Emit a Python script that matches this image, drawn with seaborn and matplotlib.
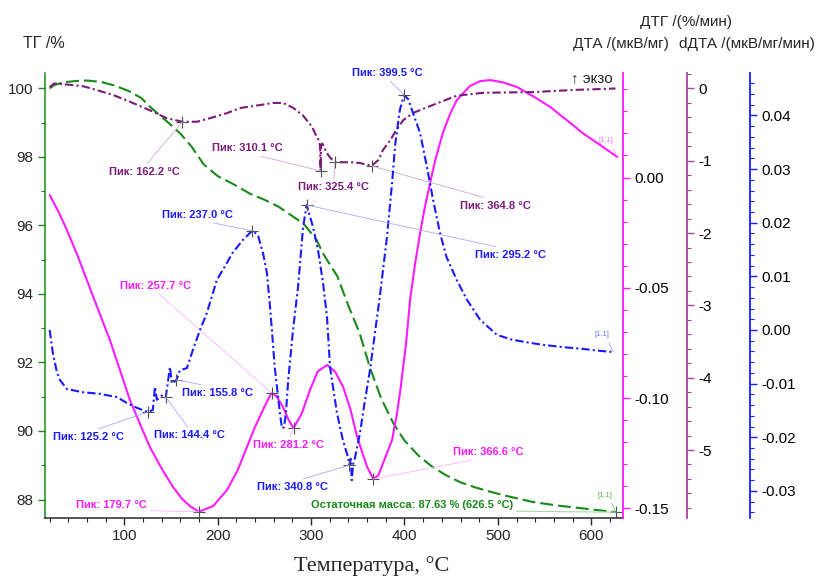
import matplotlib
matplotlib.use('Agg')
import matplotlib.pyplot as plt
import seaborn as sns
from matplotlib.ticker import MultipleLocator, FormatStrFormatter

sns.set_style('ticks')
plt.rcParams['font.family'] = ['Liberation Sans', 'DejaVu Sans']
plt.rcParams['axes.unicode_minus'] = False
plt.rcParams['axes.linewidth'] = 1.1

# --- TG, % ---
tg_temp = [20, 25, 35, 50, 60, 75, 90, 105, 118, 130, 145, 160, 172, 185, 200, 217, 235, 250,
           265, 280, 292, 300, 306, 312, 318, 328, 340, 352, 363, 375, 388, 400, 415, 430, 445,
           460, 475, 490, 510, 537, 565, 591, 610, 626.5]
tg_mass = [100.00, 100.10, 100.18, 100.22, 100.23, 100.19, 100.08, 99.92, 99.72, 99.40, 99.05,
           98.68, 98.30, 97.78, 97.44, 97.20, 96.92, 96.75, 96.55, 96.27, 96.05, 95.78, 95.57,
           95.22, 94.95, 94.52, 93.65, 92.85, 91.85, 90.95, 90.23, 89.72, 89.28, 88.95, 88.70,
           88.50, 88.36, 88.24, 88.10, 87.93, 87.82, 87.74, 87.68, 87.63]

# --- DTG, %/min ---
dtg_temp = [20, 25, 42, 56, 70, 88, 109, 127, 145, 162.2, 178, 192, 210, 224, 245, 259, 270,
            281, 291, 301, 306, 308.5, 309.6, 310.1, 310.6, 312, 316.7, 320, 325.4, 335, 342,
            352, 364.8, 372, 377, 385, 390, 398.5, 409, 424, 438, 456, 470, 484, 510, 538, 560,
            581, 605, 626]
dtg_vals = [0.02, 0.07, 0.05, 0.03, -0.02, -0.09, -0.20, -0.30, -0.41, -0.46, -0.46, -0.41,
            -0.34, -0.27, -0.23, -0.20, -0.20, -0.27, -0.37, -0.53, -0.67, -0.72, -0.80, -1.14,
            -0.80, -0.76, -0.89, -0.95, -1.02, -1.02, -1.02, -1.03, -1.07, -0.99, -0.85, -0.71,
            -0.60, -0.44, -0.34, -0.26, -0.19, -0.10, -0.08, -0.06, -0.055, -0.05, -0.035,
            -0.02, -0.01, 0.0]

# --- DTA, uV/mg ---
dta_temp = [20, 30, 38.4, 50, 59.8, 72, 84.5, 95, 105.9, 117, 127.3, 140, 152, 162, 170.2,
            179.7, 195, 209.9, 221, 231.3, 240, 248.4, 254, 257.7, 263, 269.9, 276, 281.2, 290,
            298.8, 307, 317, 325.7, 334.3, 342, 349.3, 355, 360, 366.6, 372, 377.2, 386.7, 392,
            396, 401.7, 406, 411, 416.7, 422, 427.4, 433, 441, 449, 456, 470, 481, 491.7, 505,
            520.7, 538, 556, 573, 591, 610, 628]
dta_vals = [-0.0079, -0.0160, -0.0238, -0.0355, -0.0465, -0.0600, -0.0737, -0.0870, -0.1009,
            -0.1120, -0.1222, -0.1320, -0.1403, -0.1458, -0.1490, -0.1516, -0.1490, -0.1417,
            -0.1330, -0.1222, -0.1130, -0.1054, -0.1005, -0.0977, -0.0992, -0.1041, -0.1100,
            -0.1136, -0.1070, -0.0963, -0.0880, -0.0850, -0.0880, -0.0950, -0.1050, -0.1176,
            -0.1250, -0.1312, -0.1367, -0.1350, -0.1294, -0.1190, -0.1068, -0.0950, -0.0750,
            -0.0555, -0.0400, -0.0252, -0.0130, -0.0025, 0.0080, 0.0201, 0.0290, 0.0351,
            0.0415, 0.0437, 0.0442, 0.0432, 0.0410, 0.0368, 0.0320, 0.0263, 0.0201, 0.0146,
            0.0093]

# --- dDTA, uV/mg/min ---
dd_temp = [20, 23.4, 27.7, 30.9, 38.4, 55.5, 73.7, 92, 102.7, 113.4, 125.2, 130.5, 132.7,
           134.8, 141, 144.4, 148.8, 150.9, 155.8, 159.5, 167, 173.4, 181, 188.4, 199, 209.8,
           216, 227, 237.0, 243, 248.4, 252.7, 256, 258, 261, 264, 266.6, 268.7, 271, 273,
           275.5, 280.6, 286, 291.4, 295.2, 302, 307.4, 312.8, 317, 320.3, 327.7, 334, 339.5,
           340.8, 342.5, 343.5, 345, 347, 352.3, 357.8, 363, 368, 373.4, 381, 386.7, 390, 395,
           399.5, 404, 409, 416.7, 424, 430.7, 438, 445, 456, 467, 481, 499, 515, 534.6, 550,
           570, 590, 610, 623.6]
dd_vals = [0.0, -0.0043, -0.0078, -0.0093, -0.0110, -0.0116, -0.0119, -0.0125, -0.0136,
           -0.0145, -0.0153, -0.0149, -0.0106, -0.0130, -0.0121, -0.0125, -0.0069, -0.0100,
           -0.0093, -0.0075, -0.0071, -0.0037, 0.0, 0.0032, 0.0093, 0.0125, 0.0144, 0.0168,
           0.0185, 0.0177, 0.0144, 0.0106, 0.0043, 0.0, -0.0069, -0.0115, -0.0155, -0.0183,
           -0.0181, -0.0155, -0.0093, 0.0, 0.0080, 0.0192, 0.0233, 0.0192, 0.0149, 0.0087,
           0.0024, -0.0070, -0.0155, -0.0205, -0.0237, -0.0252, -0.0240, -0.0280, -0.0250,
           -0.0238, -0.0192, -0.0130, -0.0075, -0.0010, 0.0060, 0.0170, 0.0274, 0.0345, 0.0410,
           0.0438, 0.0430, 0.0405, 0.0367, 0.0304, 0.0242, 0.0181, 0.0136, 0.0093, 0.0056,
           0.0019, -0.0009, -0.0018, -0.0024, -0.0028, -0.0032, -0.0035, -0.0039, -0.0041]

# peaks
dtg_peak_t = [162.2, 310.1, 325.4, 364.8]
dtg_peak_v = [-0.46, -1.14, -1.02, -1.07]
dd_peak_t = [125.2, 144.4, 155.8, 237.0, 295.2, 340.8, 399.5]
dd_peak_v = [-0.0153, -0.0125, -0.0093, 0.0185, 0.0233, -0.0252, 0.0438]
dta_peak_t = [179.7, 257.7, 281.2, 366.6]
dta_peak_v = [-0.1516, -0.0977, -0.1136, -0.1367]
residual_t = 626.5
residual_mass = 87.63

# label offsets in pixels (text centre relative to the peak mark)
dtg_offsets = [(-38, -50), (-73, 23), (-1, -25), (124, -40)]
dd_offsets = [(-59, -25), (24, -38), (41, -13), (-55, 16), (204, -50), (-57, -22), (-17, 22)]
dta_offsets = [(-87, 7), (-116, 107), (-5, -17), (115, 27)]

GREEN = '#178a17'
PURPLE = '#7b1a7b'
PURPLE_AX = '#a444a4'
MAGENTA = '#ff1aff'
BLUE = '#1a1aff'

fig = plt.figure(figsize=(8.16, 5.78), dpi=100)
ax = fig.add_axes([45 / 816, 60 / 578, 578 / 816, 445 / 578])
ax_dta = ax.twinx()
ax_dtg = ax.twinx()
ax_dd = ax.twinx()
ax_dtg.spines['right'].set_position(('axes', 1 + 64 / 578))
ax_dd.spines['right'].set_position(('axes', 1 + 127 / 578))

sns.lineplot(x=tg_temp, y=tg_mass, ax=ax, color=GREEN, lw=1.5,
             linestyle=(0, (6.2, 2.4)), estimator=None, sort=False)
sns.lineplot(x=dtg_temp, y=dtg_vals, ax=ax_dtg, color=PURPLE, lw=1.5,
             linestyle=(0, (4, 1.5, 1, 1.5)), estimator=None, sort=False)
sns.lineplot(x=dd_temp, y=dd_vals, ax=ax_dd, color=BLUE, lw=1.5,
             linestyle=(0, (4, 1.5, 1, 1.5)), estimator=None, sort=False)
sns.lineplot(x=dta_temp, y=dta_vals, ax=ax_dta, color=MAGENTA, lw=1.5,
             estimator=None, sort=False)

ax.set_xlim(15, 634)
ax.set_ylim(87.46, 100.45)
ax_dta.set_ylim(-0.1544, 0.0474)
ax_dtg.set_ylim(-5.94, 0.214)
ax_dd.set_ylim(-0.03504, 0.0479)

ax.xaxis.set_major_locator(MultipleLocator(100))
ax.xaxis.set_minor_locator(MultipleLocator(20))
ax.yaxis.set_major_locator(MultipleLocator(2))
ax.yaxis.set_minor_locator(MultipleLocator(1))
ax_dta.yaxis.set_major_locator(MultipleLocator(0.05))
ax_dta.yaxis.set_minor_locator(MultipleLocator(0.01))
ax_dta.yaxis.set_major_formatter(FormatStrFormatter('%.2f'))
ax_dtg.yaxis.set_major_locator(MultipleLocator(1))
ax_dtg.yaxis.set_minor_locator(MultipleLocator(0.2))
ax_dtg.yaxis.set_major_formatter(FormatStrFormatter('%d'))
ax_dd.yaxis.set_major_locator(MultipleLocator(0.01))
ax_dd.yaxis.set_minor_locator(MultipleLocator(0.002))
ax_dd.yaxis.set_major_formatter(FormatStrFormatter('%.2f'))

for a in (ax, ax_dta, ax_dtg, ax_dd):
    a.set_xlabel('')
    a.set_ylabel('')

ax.spines['top'].set_visible(False)
ax.spines['right'].set_visible(False)
ax.spines['left'].set_color(GREEN)
ax.tick_params(axis='x', which='major', length=5, width=1, labelsize=11, pad=3)
ax.tick_params(axis='x', which='minor', length=3, width=0.8)
ax.tick_params(axis='y', which='major', length=5, width=1, color=GREEN, labelsize=11)
ax.tick_params(axis='y', which='minor', length=3, width=0.8, color=GREEN)

for a, col in ((ax_dta, MAGENTA), (ax_dtg, PURPLE_AX), (ax_dd, BLUE)):
    for s in ('left', 'top', 'bottom'):
        a.spines[s].set_visible(False)
    a.spines['right'].set_color(col)
    a.spines['right'].set_linewidth(1.3)
    a.tick_params(axis='y', which='major', length=5, width=1, color=col,
                  labelcolor='black', labelsize=11)
    a.tick_params(axis='y', which='minor', length=3, width=0.8, color=col)


def mark_peaks(axis, temps, vals, offsets, color, line_color):
    for t, v, (dx, dy) in zip(temps, vals, offsets):
        rel = (0.5, 0) if dy > 0 else (0.5, 1)
        axis.annotate(f'Пик: {t:.1f} °C', xy=(t, v), xytext=(dx, dy),
                      textcoords='offset pixels', ha='center', va='center',
                      fontsize=8, fontweight='bold', color=color,
                      arrowprops=dict(arrowstyle='-', color=line_color, lw=0.6,
                                      shrinkA=0, shrinkB=0, relpos=rel))
    axis.plot(temps, vals, '+', color='#505050', ms=8, mew=0.8)


mark_peaks(ax_dtg, dtg_peak_t, dtg_peak_v, dtg_offsets, PURPLE, '#d2a8d2')
mark_peaks(ax_dd, dd_peak_t, dd_peak_v, dd_offsets, BLUE, '#a8a8ff')
mark_peaks(ax_dta, dta_peak_t, dta_peak_v, dta_offsets, MAGENTA, '#ffb0ff')

ax.annotate(f'Остаточная масса: {residual_mass:.2f} % ({residual_t:.1f} °C)',
            xy=(residual_t, residual_mass), xytext=(-204, 7), textcoords='offset pixels',
            ha='center', va='center', fontsize=8, fontweight='bold', color=GREEN,
            arrowprops=dict(arrowstyle='-', color='#a8d8a8', lw=0.8, shrinkA=0, shrinkB=0,
                            relpos=(0.5, 0)))
ax.plot([residual_t], [residual_mass], '+', color='#505050', ms=8, mew=0.8)

# small [1.1] tags at the curve ends
for a, t, v, col in ((ax_dta, dta_temp[-1], dta_vals[-1], '#ff70ff'),
                     (ax_dd, dd_temp[-1], dd_vals[-1], '#7070ff'),
                     (ax, residual_t, residual_mass, '#60b060')):
    a.annotate('[1.1]', xy=(t, v), xytext=(-11, 17), textcoords='offset pixels',
               ha='center', va='center', fontsize=5.5, color=col,
               arrowprops=dict(arrowstyle='-', color=col, lw=0.4, shrinkA=1, shrinkB=0,
                               relpos=(0.8, 0)))

fig.text(44 / 816, 1 - 43 / 578, 'ТГ /%', fontsize=11.5, ha='center', va='center')
fig.text(686 / 816, 1 - 22 / 578, 'ДТГ /(%/мин)', fontsize=11, ha='center', va='center')
fig.text(621 / 816, 1 - 44 / 578, 'ДТА /(мкВ/мг)', fontsize=11, ha='center', va='center')
fig.text(747 / 816, 1 - 44 / 578, 'dДТА /(мкВ/мг/мин)', fontsize=11, ha='center', va='center')
fig.text(592 / 816, 1 - 78 / 578, '↑ экзо', fontsize=11, ha='center', va='center')
fig.text(372 / 816, 1 - 566 / 578, 'Температура, °C', family='Liberation Serif',
         fontsize=16, ha='center', va='center')

fig.savefig('out.png', dpi=100)
